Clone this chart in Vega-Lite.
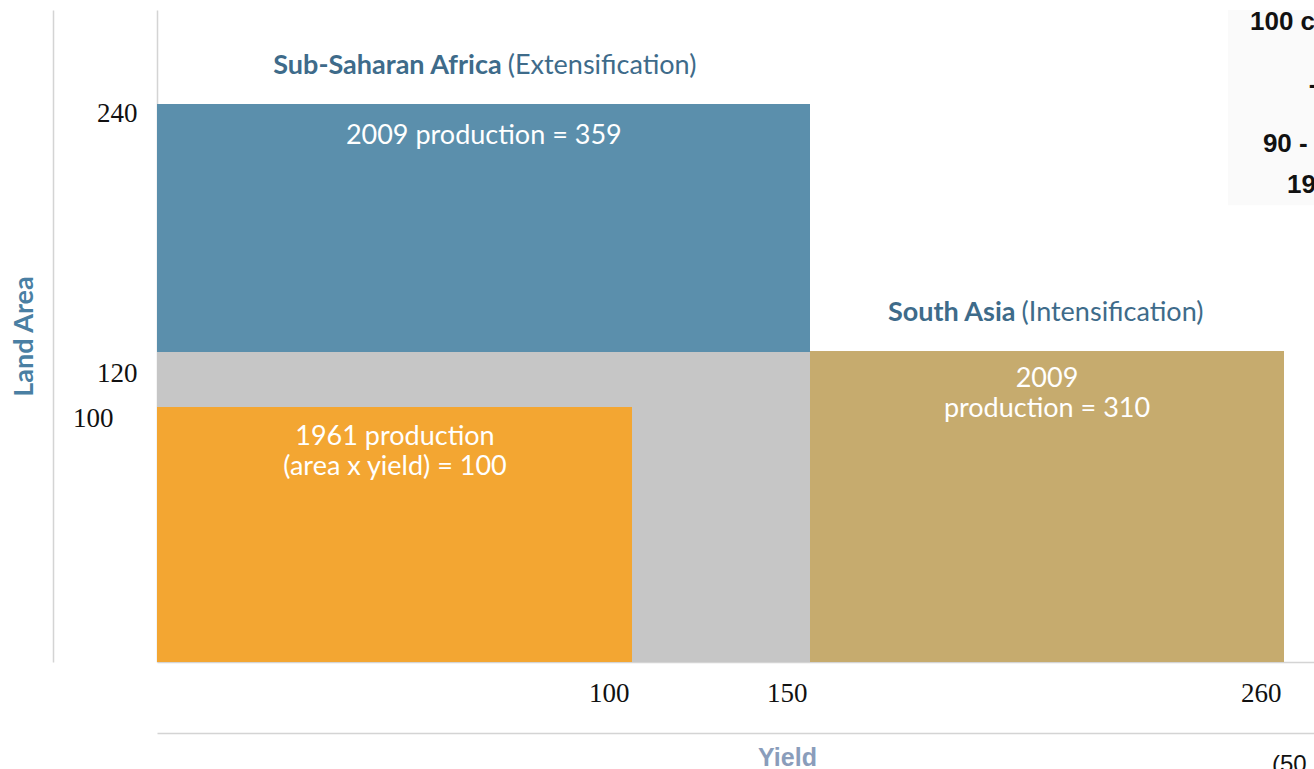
{
  "$schema": "https://vega.github.io/schema/vega-lite/v6.json",
  "width": 1157,
  "height": 652,
  "autosize": {"type": "none"},
  "padding": {"left": 157, "top": 10, "right": 0, "bottom": 107},
  "background": "white",
  "config": {"view": {"stroke": null}},
  "datasets": {
    "blocks": [
      {"block": "Frame: yield 150 × area 120", "yield_from": 0, "yield_to": 150, "area_from": 0, "area_to": 120},
      {"block": "1961 production", "yield_from": 0, "yield_to": 100, "area_from": 0, "area_to": 100},
      {"block": "Sub-Saharan Africa 2009", "yield_from": 0, "yield_to": 150, "area_from": 120, "area_to": 240},
      {"block": "South Asia 2009", "yield_from": 150, "yield_to": 260, "area_from": 0, "area_to": 120.5}
    ],
    "inset": [
      {"yield_from": 247, "yield_to": 267, "area_from": 191, "area_to": 285.5}
    ],
    "titles": [
      {"bold": "Sub-Saharan Africa", "normal": "(Extensification)", "x": 73.2, "y": 258.4},
      {"bold": "South Asia", "normal": "(Intensification)", "x": 198.4, "y": 138.9}
    ],
    "inner": [
      {"text": "2009 production = 359", "x": 68.8, "y": 224.5},
      {"text": "1961 production\n(area x yield) = 100", "x": 50.1, "y": 88.2},
      {"text": "2009\nproduction = 310", "x": 205.0, "y": 110.2}
    ],
    "fragments": [
      {"text": "100 c", "x": 252.1, "y": 279.7},
      {"text": "-", "x": 265.8, "y": 249.2},
      {"text": "90  -", "x": 255.1, "y": 220.7},
      {"text": "19", "x": 260.7, "y": 200.8}
    ],
    "fragments2": [
      {"text": "(50", "x": 257.2, "y": -40.4}
    ]
  },
  "resolve": {"axis": {"x": "independent", "y": "independent"}},
  "layer": [
    {
      "data": {"name": "inset"},
      "mark": {"type": "rect", "color": "#fafafa"},
      "encoding": {
        "x": {"field": "yield_from", "type": "quantitative", "axis": null,
              "scale": {"type": "linear", "domain": [0, 100, 150, 260, 267], "range": [0, 475, 653, 1127, 1157], "nice": false, "zero": false}},
        "x2": {"field": "yield_to"},
        "y": {"field": "area_from", "type": "quantitative", "axis": null,
              "scale": {"type": "linear", "domain": [0, 100, 120, 240, 285.5], "range": [652, 397, 342, 94, 0], "nice": false, "zero": false}},
        "y2": {"field": "area_to"}
      }
    },
    {
      "data": {"name": "blocks"},
      "mark": {"type": "rect"},
      "encoding": {
        "x": {"field": "yield_from", "type": "quantitative",
              "scale": {"type": "linear", "domain": [0, 100, 150, 260, 267], "range": [0, 475, 653, 1127, 1157], "nice": false, "zero": false},
              "axis": {"title": null, "values": [100, 150, 260], "ticks": false, "tickSize": 0, "grid": false,
                       "domainColor": "#d4d4d4", "domainWidth": 1.5,
                       "labelFont": "Liberation Serif", "labelFontSize": 27, "labelColor": "#111111",
                       "labelAlign": "right", "labelBaseline": "middle", "labelPadding": 31, "labelOffset": -3,
                       "labelFlush": false, "labelOverlap": false}},
        "x2": {"field": "yield_to"},
        "y": {"field": "area_from", "type": "quantitative",
              "scale": {"type": "linear", "domain": [0, 100, 120, 240, 285.5], "range": [652, 397, 342, 94, 0], "nice": false, "zero": false},
              "axis": {"title": null, "values": [100, 120, 240], "ticks": false, "tickSize": 0, "grid": false,
                       "domainColor": "#d4d4d4", "domainWidth": 1.5,
                       "labelFont": "Liberation Serif", "labelFontSize": 27, "labelColor": "#111111",
                       "labelAlign": "right", "labelBaseline": "middle",
                       "labelPadding": {"condition": {"test": "datum.value === 100", "value": 44}, "value": 20},
                       "labelOffset": {"condition": [{"test": "datum.value === 240", "value": 9}, {"test": "datum.value === 100", "value": 11}], "value": 21},
                       "labelFlush": false, "labelOverlap": false}},
        "y2": {"field": "area_to"},
        "color": {"field": "block", "type": "nominal", "legend": null,
                  "scale": {"domain": ["Frame: yield 150 × area 120", "1961 production", "Sub-Saharan Africa 2009", "South Asia 2009"],
                            "range": ["#c6c6c6", "#f3a632", "#5b8fac", "#c6ab6e"]}}
      }
    },
    {
      "data": {"name": "titles"},
      "mark": {"type": "text", "align": "right", "baseline": "middle", "dx": -3, "font": "Lato", "fontSize": 27, "fontWeight": "bold", "color": "#3e6b8a"},
      "encoding": {
        "x": {"field": "x", "type": "quantitative", "axis": null},
        "y": {"field": "y", "type": "quantitative", "axis": null},
        "text": {"field": "bold"}
      }
    },
    {
      "data": {"name": "titles"},
      "mark": {"type": "text", "align": "left", "baseline": "middle", "dx": 3, "font": "Lato", "fontSize": 27, "color": "#3e6b8a"},
      "encoding": {
        "x": {"field": "x", "type": "quantitative", "axis": null},
        "y": {"field": "y", "type": "quantitative", "axis": null},
        "text": {"field": "normal"}
      }
    },
    {
      "data": {"name": "inner"},
      "mark": {"type": "text", "align": "center", "baseline": "middle", "lineBreak": "\n", "lineHeight": 30, "font": "Lato", "fontSize": 27, "color": "white"},
      "encoding": {
        "x": {"field": "x", "type": "quantitative",
              "axis": {"orient": "bottom", "offset": 71, "title": "Yield", "titleFont": "Liberation Sans", "titleFontWeight": "bold",
                       "titleFontSize": 25, "titleColor": "#8a9dbb", "titleX": 630, "titlePadding": 12,
                       "labels": false, "ticks": false, "grid": false, "domainColor": "#d4d4d4", "domainWidth": 1.5}},
        "y": {"field": "y", "type": "quantitative",
              "axis": {"orient": "left", "offset": 104, "title": "Land Area", "titleFont": "Lato", "titleFontWeight": "bold",
                       "titleFontSize": 27, "titleColor": "#4a7fa3", "titlePadding": 15,
                       "labels": false, "ticks": false, "grid": false, "domainColor": "#d4d4d4", "domainWidth": 1.5}},
        "text": {"field": "text"}
      }
    },
    {
      "data": {"name": "fragments"},
      "mark": {"type": "text", "align": "left", "baseline": "middle", "font": "Liberation Sans", "fontSize": 26, "fontWeight": "bold", "color": "#111111"},
      "encoding": {
        "x": {"field": "x", "type": "quantitative", "axis": null},
        "y": {"field": "y", "type": "quantitative", "axis": null},
        "text": {"field": "text"}
      }
    },
    {
      "data": {"name": "fragments2"},
      "mark": {"type": "text", "align": "left", "baseline": "middle", "font": "Liberation Sans", "fontSize": 24, "color": "#111111"},
      "encoding": {
        "x": {"field": "x", "type": "quantitative", "axis": null},
        "y": {"field": "y", "type": "quantitative", "axis": null},
        "text": {"field": "text"}
      }
    }
  ]
}
